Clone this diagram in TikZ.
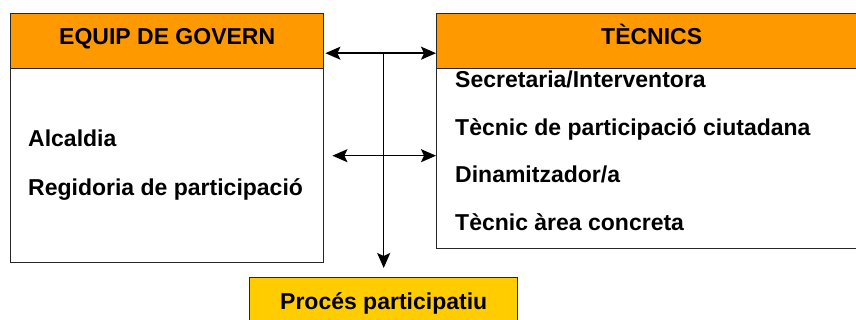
\documentclass[tikz,border=0pt]{standalone}
\usepackage{fontspec}
\setmainfont{Liberation Sans}
\usetikzlibrary{arrows.meta,positioning}
\definecolor{capcal}{HTML}{FF9900}
\definecolor{procgroc}{HTML}{FFCC00}
\tikzset{punta/.tip={Stealth[length=15pt,width=13pt,inset=3pt]}}
\begin{document}
\begin{tikzpicture}[x=1pt,y=-1pt,
	capsa/.style={draw=black!85,line width=1.4pt,anchor=north west,inner sep=0pt},
	capcalbox/.style={capsa,fill=capcal,text height=16.5pt,text depth=10pt},
	item/.style={anchor=base west,inner sep=0pt},
	fletxa/.style={line width=1.4pt,punta-punta},
	font=\fontsize{23}{27}\selectfont\bfseries]
	\useasboundingbox (0,0) rectangle (856,320);
	\clip (0,0) rectangle (856,320);
	\fill[white] (0,0) rectangle (856,320);
	% equip de govern
	\node[capsa,minimum width=313pt,minimum height=194pt] (governcos) at (10,68) {};
	\node[capcalbox,minimum width=313pt,minimum height=55pt] (govern) at (10,13) {EQUIP DE GOVERN};
	\node[item] (alcaldia) at (28,147) {Alcaldia};
	\node[item] (regidoria) at (28,196) {Regidoria de participació};
	% tecnics
	\node[capsa,minimum width=430pt,minimum height=180pt] (tecnicscos) at (436,68) {};
	\node[capcalbox,minimum width=430pt,minimum height=55pt] (tecnics) at (436,13) {TÈCNICS};
	\node[item] (secretaria) at (455,88) {Secretaria/Interventora};
	\node[item] (participacio) at (455,136) {Tècnic de participació ciutadana};
	\node[item] (dinamitzador) at (455,183) {Dinamitzador/a};
	\node[item] (area) at (455,231) {Tècnic àrea concreta};
	% proces
	\node[capsa,fill=procgroc,minimum width=268pt,minimum height=60pt,text height=16.5pt,text depth=12pt] (proces) at (249,277) {Procés participatiu};
	% fletxes
	\draw[fletxa] ([shift={(1pt,-12pt)}]govern.east) coordinate (dalt) -- (dalt -| tecnics.west);
	\draw[fletxa] ([shift={(8pt,10pt)}]governcos.east) coordinate (mig) -- (mig -| tecnicscos.west);
	\draw[line width=1.4pt,punta-] ([yshift=9pt]proces.north) -- (proces.north |- dalt);
\end{tikzpicture}
\end{document}
